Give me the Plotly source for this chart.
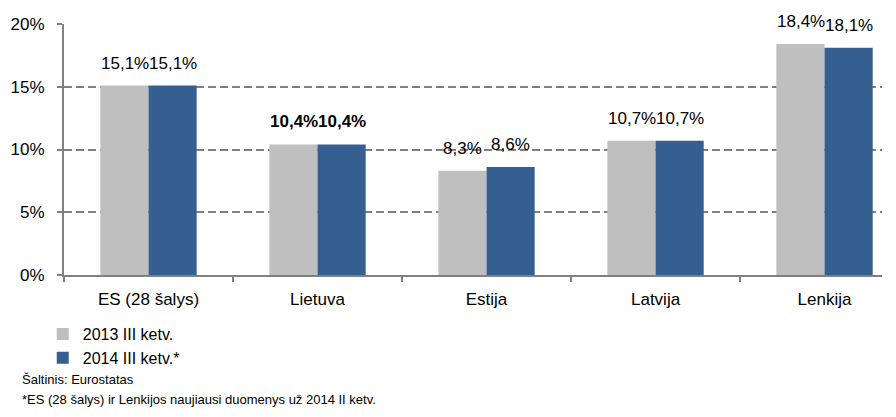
import plotly.graph_objects as go

categories = ["ES (28 šalys)", "Lietuva", "Estija", "Latvija", "Lenkija"]
series_names = ["2013 III ketv.", "2014 III ketv.*"]
values_2013 = [15.1, 10.4, 8.3, 10.7, 18.4]
values_2014 = [15.1, 10.4, 8.6, 10.7, 18.1]
bold_category = "Lietuva"
y_ticks = [0, 5, 10, 15, 20]
y_tick_labels = ["0%", "5%", "10%", "15%", "20%"]
source_note = "Šaltinis: Eurostatas"
footnote = "*ES (28 šalys) ir Lenkijos naujiausi duomenys už 2014 II ketv."

FONT = "Liberation Sans Narrow, Arial Narrow, Liberation Sans, Arial, sans-serif"
colors = ["#BFBFBF", "#365F91"]


def fmt(v, cat):
    s = f"{v:.1f}".replace(".", ",") + "%"
    return f"<b>{s}</b>" if cat == bold_category else s


fig = go.Figure()
for name, vals, col in zip(series_names, [values_2013, values_2014], colors):
    fig.add_trace(go.Bar(x=categories, y=vals, name=name, marker_color=col,
                         marker_line_width=0))

# value labels above each bar
for shift, vals in zip([-24, 24], [values_2013, values_2014]):
    for cat, v in zip(categories, vals):
        fig.add_annotation(x=cat, y=v, text=fmt(v, cat), showarrow=False,
                           xshift=shift, yshift=11, yanchor="bottom",
                           font=dict(size=17, color="#000000"))

fig.add_annotation(xref="paper", yref="paper", x=-0.054, y=-0.418, xanchor="left",
                   yanchor="middle", text=source_note, showarrow=False,
                   font=dict(size=13, color="#000000"))
fig.add_annotation(xref="paper", yref="paper", x=-0.054, y=-0.497, xanchor="left",
                   yanchor="middle", text=footnote, showarrow=False,
                   font=dict(size=13, color="#000000"))

fig.update_layout(
    width=896, height=417,
    margin=dict(l=56, r=22, t=16, b=150, autoexpand=False),
    plot_bgcolor="white", paper_bgcolor="white",
    font=dict(family=FONT, size=17, color="#000000"),
    barmode="group", bargap=0.43, bargroupgap=0,
    showlegend=True,
    legend=dict(x=-0.026, y=-0.168, xanchor="left", yanchor="top",
                font=dict(size=16), tracegroupgap=0, itemwidth=30,
                bgcolor="rgba(0,0,0,0)"),
)
fig.update_xaxes(range=[-0.5, 4.34], showline=True, linecolor="#808080", linewidth=2,
                 ticks="outside", tickson="boundaries", ticklen=5,
                 tickcolor="#808080", tickwidth=1.5, showgrid=False, automargin=False,
                 ticklabelstandoff=8)
fig.update_yaxes(range=[0, 20], tickvals=y_ticks, ticktext=y_tick_labels, showline=True,
                 linecolor="#808080", linewidth=2, ticks="outside", ticklen=5,
                 tickcolor="#808080", tickwidth=1.5,
                 showgrid=True, gridcolor="#808080", griddash="8px,4px", gridwidth=1.5,
                 zeroline=False, automargin=False, ticklabelstandoff=9)

fig.write_html("out.html")
